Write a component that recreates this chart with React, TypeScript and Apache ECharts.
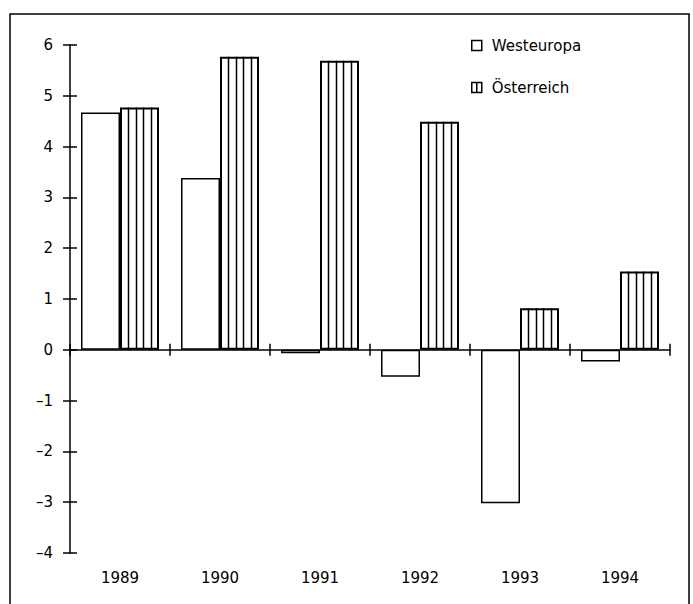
import React, { useEffect, useRef } from "react";
import * as echarts from "echarts";

const years = ["1989", "1990", "1991", "1992", "1993", "1994"];
const westeuropa = [4.67, 3.38, -0.07, -0.53, -3.02, -0.23];
const oesterreich = [4.77, 5.77, 5.69, 4.49, 0.82, 1.54];
const seriesNames = ["Westeuropa", "Österreich"];
const yMin = -4;
const yMax = 6;

const FONT = "DejaVu Sans";

export default function App() {
  const ref = useRef<HTMLDivElement>(null);
  useEffect(() => {
    if (!ref.current) return;
    const chart = echarts.init(ref.current, null, { renderer: "svg" });
    const barFrac = 0.39;
    const stripeData = oesterreich.map((v, i) => [i, v]);
    const option: any = {
      animation: false,
      backgroundColor: "#fff",
      textStyle: { fontFamily: FONT, color: "#000" },
      grid: { left: 70, top: 45, width: 600, height: 508, containLabel: false },
      legend: {
        orient: "vertical",
        left: 471,
        top: 38,
        padding: 0,
        itemWidth: 10,
        itemHeight: 10,
        itemGap: 27,
        selectedMode: false,
        textStyle: { fontFamily: FONT, fontSize: 15, color: "#000", padding: [0, 0, 0, 5] },
        itemStyle: { color: "#fff", borderColor: "#000", borderWidth: 1.5 },
        data: [
          { name: seriesNames[0], icon: "path://M0,0L10,0L10,10L0,10Z" },
          { name: seriesNames[1], icon: "path://M0,0L10,0L10,10L0,10Z M5,0L5,10" },
        ],
      },
      graphic: [
        {
          type: "rect",
          shape: { x: 10, y: 14, width: 679, height: 640 },
          style: { fill: "none", stroke: "#000", lineWidth: 1.5 },
          silent: true,
        },
      ],
      xAxis: [
        {
          type: "category",
          data: years,
          position: "bottom",
          axisLine: { show: false, onZero: false },
          axisTick: { show: false },
          axisLabel: { fontFamily: FONT, fontSize: 15, color: "#000", margin: 17 },
          splitLine: { show: false },
        },
        {
          type: "category",
          data: years,
          position: "bottom",
          axisLine: { show: true, onZero: true, lineStyle: { color: "#000", width: 1.5 } },
          axisTick: { show: true, length: 6, lineStyle: { color: "#000", width: 1.5 } },
          axisLabel: { show: false },
          splitLine: { show: false },
        },
        {
          type: "category",
          data: years,
          position: "top",
          axisLine: { show: false, onZero: true },
          axisTick: { show: true, length: 6, lineStyle: { color: "#000", width: 1.5 } },
          axisLabel: { show: false },
          splitLine: { show: false },
        },
      ],
      yAxis: [
        {
          type: "value",
          min: yMin,
          max: yMax,
          interval: 1,
          position: "left",
          axisLine: { show: true, lineStyle: { color: "#000", width: 1.5 } },
          axisTick: { show: true, length: 7, lineStyle: { color: "#000", width: 1.5 } },
          axisLabel: {
            fontFamily: FONT,
            fontSize: 15,
            color: "#000",
            margin: 17,
            formatter: (v: number) => String(v).replace("-", "–"),
          },
          splitLine: { show: false },
        },
        {
          type: "value",
          min: yMin,
          max: yMax,
          interval: 1,
          position: "left",
          axisLine: { show: false },
          axisTick: { show: true, inside: true, length: 7, lineStyle: { color: "#000", width: 1.5 } },
          axisLabel: { show: false },
          splitLine: { show: false },
        },
      ],
      series: [
        {
          name: seriesNames[0],
          type: "bar",
          xAxisIndex: 0,
          yAxisIndex: 0,
          data: westeuropa,
          barGap: "0%",
          barCategoryGap: "22%",
          itemStyle: { color: "#fff", borderColor: "#000", borderWidth: 1.5 },
        },
        {
          name: seriesNames[1],
          type: "bar",
          xAxisIndex: 0,
          yAxisIndex: 0,
          data: oesterreich,
          barGap: "0%",
          barCategoryGap: "22%",
          itemStyle: { color: "#fff", borderColor: "#000", borderWidth: 2 },
        },
        {
          name: "stripes",
          type: "custom",
          xAxisIndex: 0,
          yAxisIndex: 0,
          silent: true,
          z: 5,
          data: stripeData,
          renderItem: (params: any, api: any) => {
            const idx = api.value(0);
            const v = api.value(1);
            const base = api.coord([idx, 0]);
            const top = api.coord([idx, v]);
            const bw = api.size([1, 0])[0] * barFrac;
            const x0 = base[0];
            const children: any[] = [];
            for (let k = 1; k <= 4; k++) {
              const x = Math.round(x0 + (bw * k) / 5) + 0.5;
              children.push({
                type: "line",
                shape: { x1: x, y1: base[1], x2: x, y2: top[1] },
                style: { stroke: "#000", lineWidth: 1.5 },
              });
            }
            return { type: "group", children };
          },
        },
      ],
    };
    chart.setOption(option);
    return () => chart.dispose();
  }, []);
  return (
    <div
      ref={ref}
      style={{ position: "fixed", left: 0, top: 0, width: 693, height: 604, background: "#fff" }}
    />
  );
}
